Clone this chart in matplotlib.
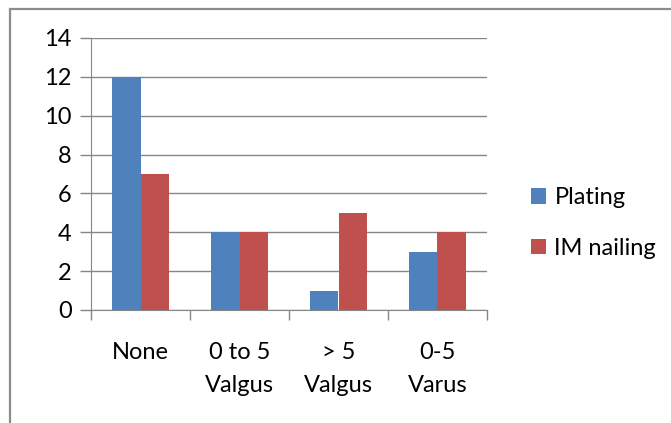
import matplotlib
matplotlib.use('Agg')
import matplotlib.pyplot as plt
import numpy as np
from matplotlib.patches import Rectangle

categories = ['None', '0 to 5\nValgus', '> 5\nValgus', '0-5\nVarus']
plating = [12, 4, 1, 3]
im_nailing = [7, 4, 5, 4]

plt.rcParams['font.family'] = ['Lato', 'DejaVu Sans']

fig = plt.figure(figsize=(6.71, 4.23), dpi=100)
ax = fig.add_axes([91/671, 1 - 310/423, (487 - 91)/671, (310 - 38)/423])

x = np.arange(len(categories))
w = 1 / 3.5
ax.bar(x - w/2, plating, w, color='#4F81BD', label='Plating')
ax.bar(x + w/2, im_nailing, w, color='#C0504D', label='IM nailing')

ax.set_xlim(-0.5, len(categories) - 0.5)
ax.set_ylim(0, 14)
ax.set_yticks(range(0, 15, 2))
ax.yaxis.grid(True, color='#868686', lw=1)
ax.set_axisbelow(True)

ax.set_xticks(np.arange(len(categories) + 1) - 0.5)
ax.set_xticklabels([])
ax.set_xticks(x, minor=True)
ax.set_xticklabels(categories, minor=True, fontsize=17, linespacing=1.7)
ax.tick_params(axis='x', which='minor', length=0, pad=23)
ax.tick_params(axis='x', which='major', length=7, color='#868686', width=1)
ax.tick_params(axis='y', length=8, color='#868686', width=1, labelsize=17, pad=6)

for s in ['top', 'right']:
    ax.spines[s].set_visible(False)
for s in ['left', 'bottom']:
    ax.spines[s].set_color('#868686')

ax.legend(loc='center left', bbox_to_anchor=(1.057, 0.32), frameon=False,
          fontsize=17, handlelength=0.65, handleheight=0.65, handletextpad=0.35,
          labelspacing=1.25)

fig.patches.append(Rectangle((10/671, -0.1), 1.2, 1.1 - 9/423, transform=fig.transFigure,
                             fill=False, edgecolor='#8C8C8C', lw=1.6))

fig.savefig('out.png', dpi=100)
